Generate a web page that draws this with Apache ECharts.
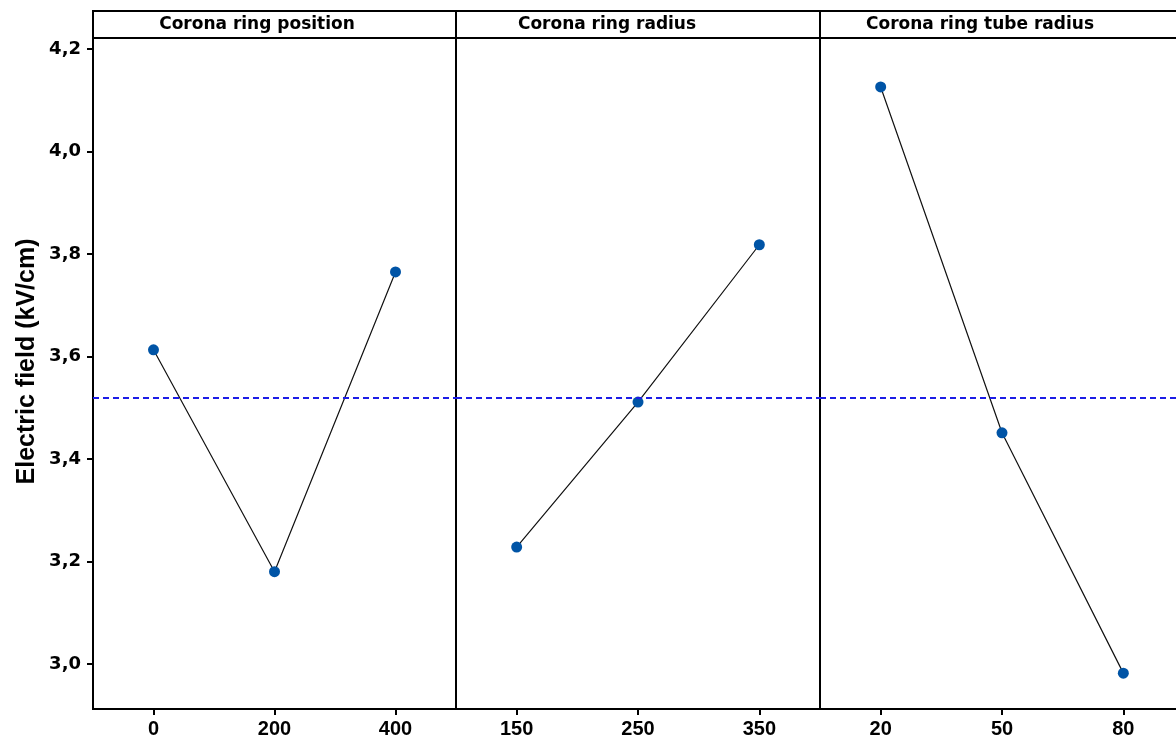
<!DOCTYPE html>
<html>
<head>
<meta charset="utf-8">
<script src="https://cdn.jsdelivr.net/npm/echarts@6/dist/echarts.min.js"></script>
<style>
  html, body { margin: 0; padding: 0; background: #fff; }
  #chart { width: 1176px; height: 742px; }
</style>
</head>
<body>
<div id="chart"></div>
<script>
// ---- data ----
const panelTitles = ['Corona ring position', 'Corona ring radius', 'Corona ring tube radius'];
const positionLevels = ['0', '200', '400'];
const radiusLevels = ['150', '250', '350'];
const tubeLevels = ['20', '50', '80'];
const positionMeans = [3.613, 3.180, 3.765];
const radiusMeans = [3.228, 3.511, 3.818];
const tubeMeans = [4.126, 3.451, 2.982];
const yTicks = [3.0, 3.2, 3.4, 3.6, 3.8, 4.0, 4.2];
const yMin = 2.912;
const yMax = 4.2215;
const yTitle = 'Electric field (kV/cm)';

const levels = [positionLevels, radiusLevels, tubeLevels];
const means = [positionMeans, radiusMeans, tubeMeans];
const grandMean = positionMeans.reduce((a, b) => a + b, 0) / positionMeans.length;

// ---- layout ----
const panelLeft = [93, 456, 820];
const panelWidth = [363, 364, 364];
const gridTop = 38;
const gridHeight = 671;
const headerTop = 11;
const titleCenters = [257, 607, 980];

const grids = [], xAxes = [], yAxes = [], series = [], graphics = [];
for (let i = 0; i < 3; i++) {
  grids.push({
    left: panelLeft[i], top: gridTop, width: panelWidth[i], height: gridHeight,
    show: true, borderColor: '#000', borderWidth: 2, backgroundColor: 'transparent',
    containLabel: false, outerBoundsMode: 'none'
  });
  xAxes.push({
    type: 'category', gridIndex: i, data: levels[i], boundaryGap: true,
    axisLine: { show: true, lineStyle: { color: '#000', width: 2 } },
    axisTick: { show: true, alignWithLabel: true, length: 6, lineStyle: { color: '#000', width: 2 } },
    axisLabel: { margin: 10, color: '#000', fontFamily: 'Liberation Sans, Arial, sans-serif', fontWeight: 'bold', fontSize: 20 },
    splitLine: { show: false }
  });
  yAxes.push({
    type: 'value', gridIndex: i, min: yMin, max: yMax,
    show: i === 0,
    name: i === 0 ? yTitle : '',
    nameLocation: 'middle', nameGap: 53, nameRotate: 90,
    nameTextStyle: { color: '#000', fontFamily: 'Liberation Sans, Arial, sans-serif', fontWeight: 'bold', fontSize: 25, padding: [0, 0, 0, 24] },
    axisLine: { show: true, lineStyle: { color: '#000', width: 2 } },
    axisTick: { show: true, length: 6, lineStyle: { color: '#000', width: 2 }, customValues: yTicks },
    axisLabel: {
      margin: 12, color: '#000', fontFamily: 'DejaVu Sans', fontWeight: 'bold', fontSize: 18,
      customValues: yTicks,
      formatter: v => v.toFixed(1).replace('.', ',')
    },
    splitLine: { show: false }
  });
  series.push({
    type: 'line', xAxisIndex: i, yAxisIndex: i, data: means[i],
    symbol: 'circle', symbolSize: 11,
    itemStyle: { color: '#0054a6' },
    lineStyle: { color: '#111', width: 1.2 },
    markLine: {
      silent: true, symbol: ['none', 'none'], label: { show: false },
      lineStyle: { color: '#1c1ce6', type: [6, 4], width: 2.2 },
      data: [{ yAxis: grandMean }]
    },
    z: 3
  });
  graphics.push({
    type: 'rect', x: panelLeft[i], y: headerTop,
    shape: { x: 0, y: 0, width: panelWidth[i], height: gridTop - headerTop },
    style: { fill: 'none', stroke: '#000', lineWidth: 2 }
  });
  graphics.push({
    type: 'text', x: titleCenters[i], y: (headerTop + gridTop) / 2 + 0.5,
    style: {
      text: panelTitles[i], fill: '#000', font: 'bold 17px "DejaVu Sans"',
      textAlign: 'center', textVerticalAlign: 'middle'
    }
  });
}

const chart = echarts.init(document.getElementById('chart'), null, { renderer: 'canvas' });
chart.setOption({
  animation: false,
  backgroundColor: '#fff',
  grid: grids,
  xAxis: xAxes,
  yAxis: yAxes,
  series: series,
  graphic: graphics
});
</script>
</body>
</html>
